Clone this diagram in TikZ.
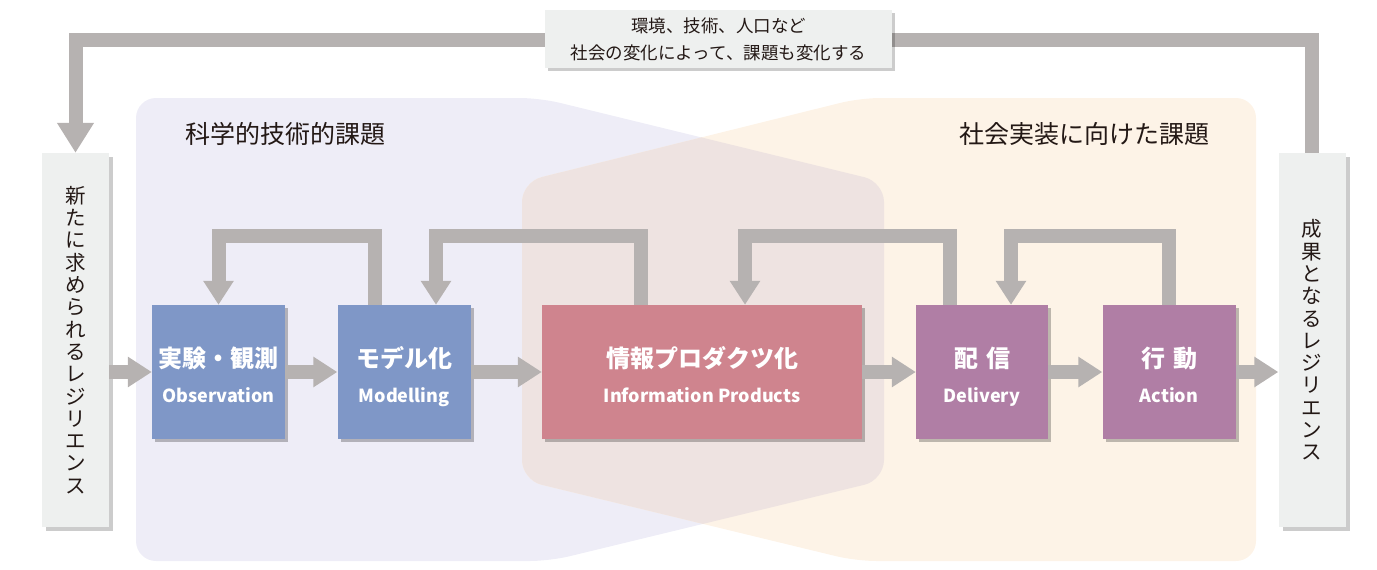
\documentclass[tikz,border=0pt]{standalone}
\usepackage{fontspec}
\setmainfont{Noto Sans CJK JP}
\usepackage{xcolor}
\usetikzlibrary{positioning,arrows.meta,calc,shadows}

\definecolor{sciregion}{HTML}{EEEDF7}
\definecolor{socregion}{HTML}{FDF3E7}
\definecolor{bothregion}{HTML}{EEE3E1}
\definecolor{stageblue}{HTML}{7F97C7}
\definecolor{stagepink}{HTML}{CF848E}
\definecolor{stageplum}{HTML}{B07EA5}
\definecolor{flowgrey}{HTML}{B6B2B1}
\definecolor{panelgrey}{HTML}{EEF0EF}
\definecolor{inkdark}{HTML}{231815}

% two lines in a stage box: Japanese over English
\newcommand{\stagelabel}[2]{\rule{0pt}{31pt}#1\\{\fontsize{18}{35}\selectfont\rule[-6pt]{0pt}{6pt}#2}}

\begin{document}
\begin{tikzpicture}[x=1pt, y=-1pt,
  >={Triangle[width=29pt,length=24pt]},
  stage/.style={minimum width=133pt, minimum height=134pt, inner sep=0pt, align=center,
    text=white, font=\bfseries\fontsize{24}{35}\selectfont,
    drop shadow={shadow xshift=3pt, shadow yshift=-3pt, opacity=0.25, fill=black}},
  side/.style={fill=panelgrey, minimum width=67pt, minimum height=374pt, inner sep=0pt,
    align=center, text=inkdark, font=\fontsize{20.5}{22.3}\selectfont,
    drop shadow={shadow xshift=4pt, shadow yshift=-4pt, opacity=0.2, fill=black}},
  note/.style={fill=panelgrey, minimum width=347pt, minimum height=58pt, inner sep=0pt,
    align=center, text=inkdark, font=\fontsize{17.5}{27}\selectfont,
    drop shadow={shadow xshift=3pt, shadow yshift=-3pt, opacity=0.2, fill=black}},
  region/.style={text=inkdark, inner sep=0pt, font=\fontsize{25}{30}\selectfont},
  flow/.style={draw=flowgrey, line width=14pt, ->},
  back/.style={flow, line join=miter}]

\useasboundingbox (0,0) rectangle (1377,570);

% the two overlapping areas
\def\scipath{(136,98) -- (540,98) -- (884,182) -- (884,480) -- (550,561) -- (136,561) -- cycle}
\def\socpath{(1256,98) -- (860,98) -- (522,182) -- (522,480) -- (856,561) -- (1256,561) -- cycle}
\fill[sciregion, rounded corners=20pt] \scipath;
\fill[socregion, rounded corners=20pt] \socpath;
\begin{scope}
  \clip[rounded corners=20pt] \scipath;
  \fill[bothregion, rounded corners=20pt] \socpath;
\end{scope}
\node[region, anchor=west] (scititle) at (185,134) {科学的技術的課題};
\node[region, anchor=east] (soctitle) at (1210,134) {社会実装に向けた課題};

% resilience panels
\node[side] (resL) at (75.5,340) {新\\た\\に\\求\\め\\ら\\れ\\る\\レ\\ジ\\リ\\エ\\ン\\ス};
\node[side] (resR) at (1312,340) {成\\果\\と\\な\\る\\レ\\ジ\\リ\\エ\\ン\\ス};

% outer loop, behind the note
\draw[back, >={Triangle[width=35pt,length=30pt]}] (resR.north) -- ++(0,-113) -| (resL.north);
\node[note] (change) at (718.5,39) {環境、技術、人口など\\社会の変化によって、課題も変化する};

% stages
\node[stage, fill=stageblue] (obs) at (218.5,372) {\stagelabel{実験・観測}{Observation}};
\node[stage, fill=stageblue] (mod) at (404,372) {\stagelabel{モデル化}{Modelling}};
\node[stage, fill=stagepink, minimum width=320pt] (info) at (702,372) {\stagelabel{情報プロダクツ化}{Information Products}};
\node[stage, fill=stageplum, minimum width=132pt] (deli) at (982,372) {\stagelabel{配\hspace{8pt}信}{Delivery}};
\node[stage, fill=stageplum] (act) at (1169,372) {\stagelabel{行\hspace{8pt}動}{Action}};

% forward flow
\draw[flow] (obs.west -| resL.east) -- (obs.west);
\draw[flow] (obs) -- (mod);
\draw[flow] (mod) -- (info);
\draw[flow] (info) -- (deli);
\draw[flow] (deli) -- (act);
\draw[flow] (act.east) -- (act.east -| resR.west);

% feedback
\draw[back] ([xshift=-29pt]mod.north) -- ++(0,-69) -| (obs.north);
\draw[back] ([xshift=-61pt]info.north) -- ++(0,-69) -| ([xshift=32pt]mod.north);
\draw[back] ([xshift=-32pt]deli.north) -- ++(0,-69) -| ([xshift=43pt]info.north);
\draw[back] (act.north) -- ++(0,-69) -| ([xshift=29pt]deli.north);
\end{tikzpicture}
\end{document}
